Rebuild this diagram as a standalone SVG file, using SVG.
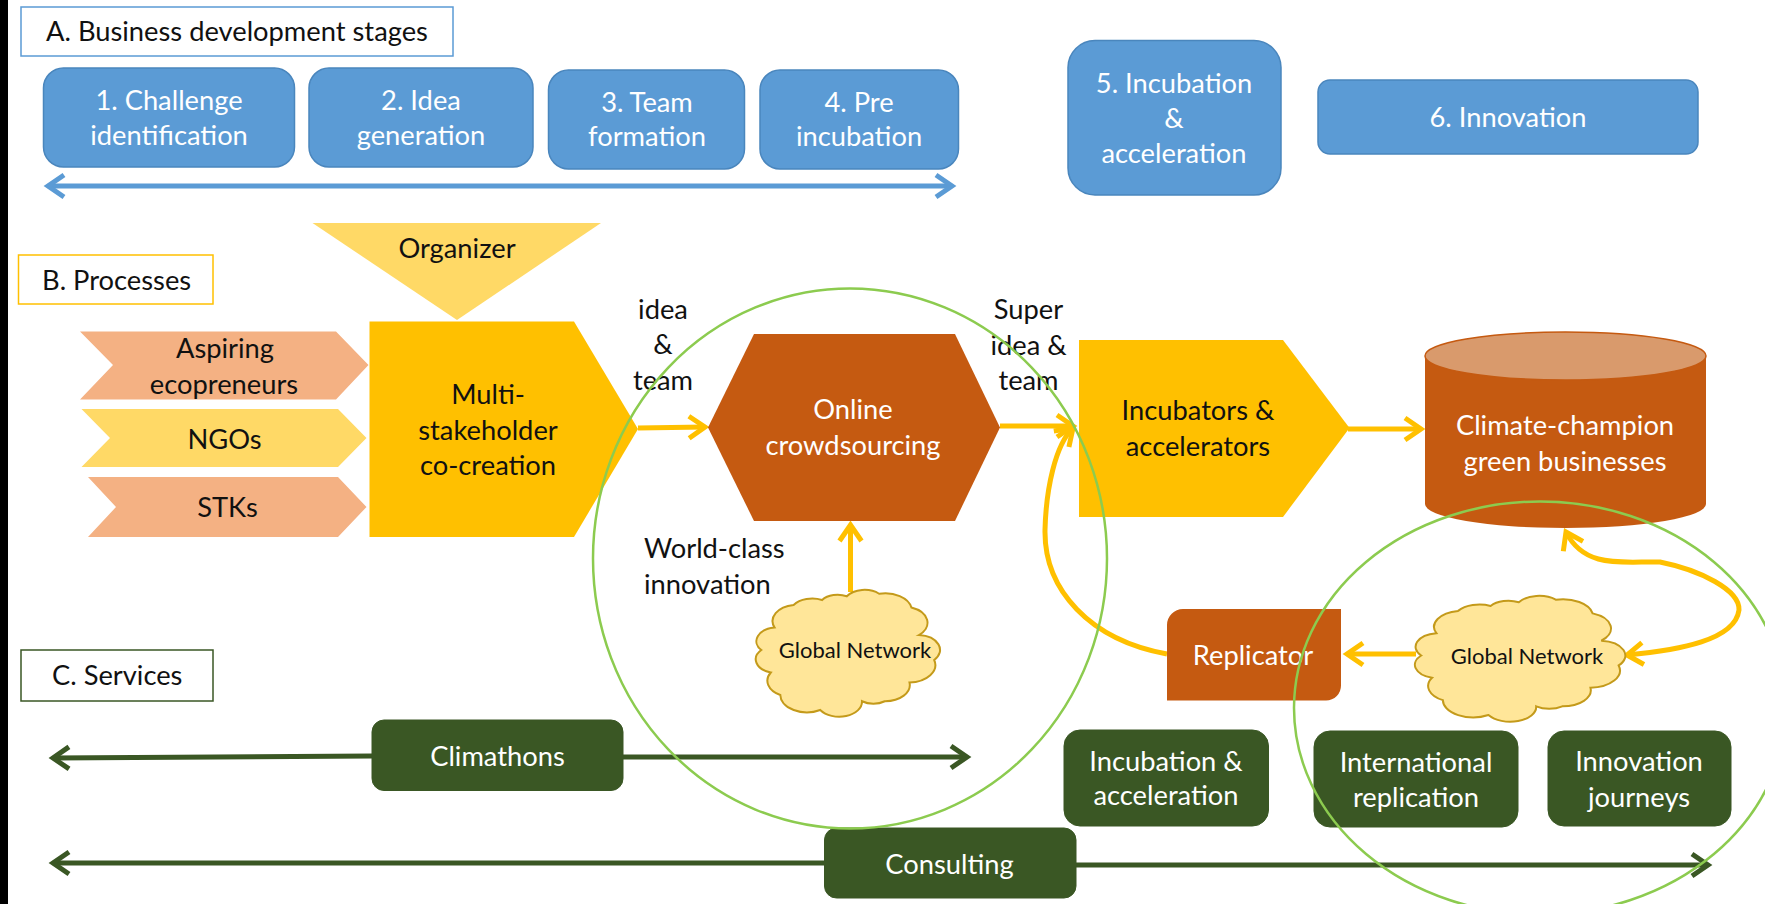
<svg xmlns="http://www.w3.org/2000/svg" xmlns:xlink="http://www.w3.org/1999/xlink" width="1765" height="904" viewBox="0 0 1765 904">
<style>
text{font-family:Lato,"Open Sans","Liberation Sans",sans-serif;font-size:27.300px;text-anchor:middle;fill:#111}
.w{fill:#fff}.s{text-anchor:start}.n{font-size:22px}
.blue{fill:#5b9bd5;stroke:#4a86bd;stroke-width:1.500}
.green{fill:#3a5724;stroke:#3a5724}
.line{fill:none}
.gold{stroke:#ffc000;stroke-width:5}
.dg{stroke:#3a5724;stroke-width:5}
.lb{stroke:#5b9bd5;stroke-width:5}
.ring{fill:none;stroke:#8ccb4f;stroke-width:2.500}
.cloud{fill:#ffe699;stroke:#c49a1a;stroke-width:2;vector-effect:non-scaling-stroke}
</style>
<defs>
<marker id="ag" markerUnits="userSpaceOnUse" viewBox="-20 -14 26 28" refX="0" refY="0" markerWidth="26" markerHeight="28" orient="auto-start-reverse"><path d="M-16,-11 L0,0 L-16,11" fill="none" stroke="#ffc000" stroke-width="5"/></marker>
<marker id="ad" markerUnits="userSpaceOnUse" viewBox="-20 -14 26 28" refX="0" refY="0" markerWidth="26" markerHeight="28" orient="auto-start-reverse"><path d="M-16,-11 L0,0 L-16,11" fill="none" stroke="#3a5724" stroke-width="5"/></marker>
<marker id="ab" markerUnits="userSpaceOnUse" viewBox="-20 -14 26 28" refX="0" refY="0" markerWidth="26" markerHeight="28" orient="auto-start-reverse"><path d="M-16,-11 L0,0 L-16,11" fill="none" stroke="#5b9bd5" stroke-width="5"/></marker>
<path id="cl" class="cloud" d="M14,30 A13,13 0 0 1 24,12 A12,12 0 0 1 39,8 A10,10 0 0 1 52,5 A11,11 0 0 1 69,3 A14,14 0 0 1 86,14 A13,13 0 0 1 90,36 A12,12 0 0 1 98,56 A14,14 0 0 1 85,74 A13,13 0 0 1 72,89 A10,10 0 0 1 60,89 A12,12 0 0 1 38,96 A14,14 0 0 1 17,84 A13,13 0 0 1 12,66 A11,11 0 0 1 7,48 A11,11 0 0 1 14,30 Z"/>
</defs>
<rect width="1765" height="904" fill="#fff"/>
<rect x="0" y="0" width="8" height="904" fill="#000"/>

<g id="connectors">
<path class="line lb" d="M48,186 H952" marker-start="url(#ab)" marker-end="url(#ab)"/>
<path class="line gold" d="M638,428 L705,427" marker-end="url(#ag)"/>
<path class="line gold" d="M1000,426 L1073,426" marker-end="url(#ag)"/>
<path class="line gold" d="M1348,429 L1421,429" marker-end="url(#ag)"/>
<path class="line gold" d="M850.500,592 V525" marker-end="url(#ag)"/>
<path class="line gold" d="M1416,654 H1347" marker-end="url(#ag)"/>
<path class="line gold" d="M1167,654 C1090,640 1044,590 1045,530 C1046,490 1055,445 1073,428" marker-end="url(#ag)"/>
<path class="line gold" d="M1566,532 C1585,570 1625,561 1660,562 C1700,570 1740,590 1739,610 C1735,640 1680,650 1627,655" marker-start="url(#ag)" marker-end="url(#ag)"/>
<path class="line dg" d="M53,758 L372,756" marker-start="url(#ad)"/>
<path class="line dg" d="M623,757 H967" marker-end="url(#ad)"/>
<path class="line dg" d="M53,863 H825" marker-start="url(#ad)"/>
<path class="line dg" d="M1076,865 H1708" marker-end="url(#ad)"/>
</g>

<g id="label-a"><rect x="21" y="7" width="432" height="49" fill="#fff" stroke="#5b9bd5" stroke-width="1.500"/><text class="s" x="46" y="41">A. Business development stages</text></g>
<g id="stage-1"><rect class="blue" x="43.500" y="68" width="251" height="99" rx="20"/><text class="w" x="169" y="110">1. Challenge</text><text class="w" x="169" y="145">identification</text></g>
<g id="stage-2"><rect class="blue" x="309" y="68" width="224" height="99" rx="20"/><text class="w" x="421" y="110">2. Idea</text><text class="w" x="421" y="145">generation</text></g>
<g id="stage-3"><rect class="blue" x="548.500" y="70" width="196" height="99" rx="20"/><text class="w" x="647" y="112">3. Team</text><text class="w" x="647" y="146">formation</text></g>
<g id="stage-4"><rect class="blue" x="760" y="70" width="198.500" height="99" rx="20"/><text class="w" x="859" y="112">4. Pre</text><text class="w" x="859" y="146">incubation</text></g>
<g id="stage-5"><rect class="blue" x="1068" y="40.500" width="213" height="154.500" rx="27"/><text class="w" x="1174" y="93">5. Incubation</text><text class="w" x="1174" y="128">&amp;</text><text class="w" x="1174" y="163">acceleration</text></g>
<g id="stage-6"><rect class="blue" x="1318" y="80" width="380" height="74" rx="12"/><text class="w" x="1508" y="127">6. Innovation</text></g>

<g id="organizer"><path d="M312.500,223 H601 L457,320 Z" fill="#ffd966"/><text x="457" y="258">Organizer</text></g>
<g id="label-b"><rect x="18.500" y="255" width="194.500" height="49" fill="#fff" stroke="#ffc000" stroke-width="1.500"/><text class="s" x="42" y="290">B. Processes</text></g>
<g id="aspiring"><path d="M80,331.500 H336 L368.500,365 L336,399.500 H80 L113,365 Z" fill="#f4b183"/><text x="225" y="358">Aspiring</text><text x="224" y="394">ecopreneurs</text></g>
<g id="ngos"><path d="M81.500,409 H338 L366.500,438 L338,467 H81.500 L110,438 Z" fill="#ffd966"/><text x="224.500" y="449">NGOs</text></g>
<g id="stks"><path d="M88,477 H338 L366.500,507 L338,537 H88 L116,507 Z" fill="#f4b183"/><text x="227.500" y="517">STKs</text></g>
<g id="multi"><path d="M369.500,321.500 H574 L638,429 L574,537 H369.500 Z" fill="#ffc000"/><text x="488" y="404">Multi-</text><text x="488" y="440">stakeholder</text><text x="488" y="475">co-creation</text></g>
<g id="label-idea"><text x="663" y="319">idea</text><text x="663" y="354">&amp;</text><text x="663" y="390">team</text></g>
<g id="online"><path d="M708,427.500 L754,334 H955 L1000,427.500 L955,521 H754 Z" fill="#c55a11"/><text class="w" x="853" y="419">Online</text><text class="w" x="853" y="455">crowdsourcing</text></g>
<g id="label-super"><text x="1028.500" y="319">Super</text><text x="1028.500" y="355">idea &amp;</text><text x="1028.500" y="390">team</text></g>
<g id="incubators"><path d="M1079,340 H1283 L1349.500,428 L1283,517 H1079 Z" fill="#ffc000"/><text x="1198" y="420">Incubators &amp;</text><text x="1198" y="456">accelerators</text></g>
<g id="climate"><path d="M1425,356 V504 A140.500,24 0 0 0 1706,504 V356 Z" fill="#c55a11"/><ellipse cx="1565.500" cy="356" rx="140.500" ry="24" fill="#d99a6c" stroke="#c55a11" stroke-width="1.500"/><text class="w" x="1565" y="435">Climate-champion</text><text class="w" x="1565" y="471">green businesses</text></g>
<g id="label-world"><text class="s" x="644" y="558">World-class</text><text class="s" x="644" y="594">innovation</text></g>
<g id="network-1"><use xlink:href="#cl" href="#cl" transform="translate(748,590) scale(1.9,1.25)"/><text class="n" x="855" y="658">Global Network</text></g>
<g id="network-2"><use xlink:href="#cl" href="#cl" transform="translate(1406,596) scale(2.17,1.24)"/><text class="n" x="1527" y="664">Global Network</text></g>
<g id="replicator"><path d="M1183,609 H1341 V685 A15,15 0 0 1 1326,700.500 H1167 V625 A16,16 0 0 1 1183,609 Z" fill="#c55a11"/><text class="w" x="1253" y="665">Replicator</text></g>

<g id="label-c"><rect x="21" y="650" width="192" height="51" fill="#fff" stroke="#3a5724" stroke-width="1.500"/><text class="s" x="52" y="685">C. Services</text></g>
<g id="climathons"><rect class="green" x="372" y="720" width="251" height="70.500" rx="12"/><text class="w" x="497.500" y="766">Climathons</text></g>
<g id="consulting"><rect class="green" x="824.500" y="828" width="251.500" height="70" rx="12"/><text class="w" x="949.500" y="874">Consulting</text></g>
<g id="svc-incubation"><rect class="green" x="1064" y="730" width="204.500" height="96" rx="16"/><text class="w" x="1166" y="771">Incubation &amp;</text><text class="w" x="1166" y="805">acceleration</text></g>
<g id="svc-replication"><rect class="green" x="1314" y="731" width="204" height="96" rx="16"/><text class="w" x="1416" y="772">International</text><text class="w" x="1416" y="807">replication</text></g>
<g id="svc-journeys"><rect class="green" x="1548" y="731" width="183" height="95" rx="16"/><text class="w" x="1639" y="771">Innovation</text><text class="w" x="1639" y="807">journeys</text></g>

<g id="ring-1"><ellipse class="ring" cx="850" cy="558.500" rx="257" ry="270"/></g>
<g id="ring-2"><ellipse class="ring" cx="1540" cy="708" rx="246" ry="206.500"/></g>
</svg>
